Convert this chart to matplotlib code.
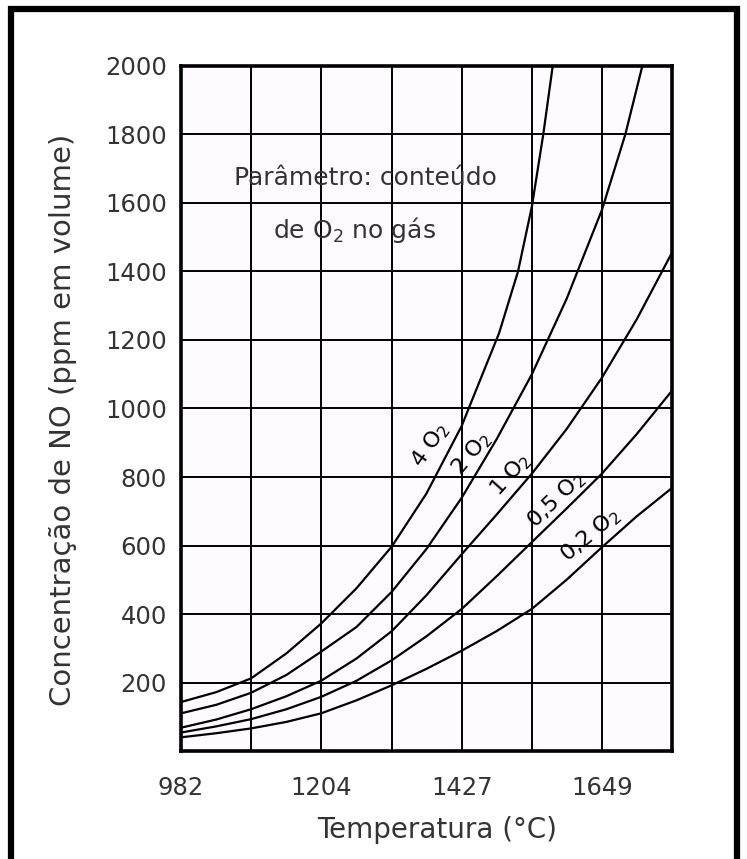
import matplotlib
matplotlib.use("Agg")
import matplotlib.pyplot as plt
from matplotlib.patches import Rectangle

# NO concentration vs temperature, one curve per O2 content in the gas
temp_c = {
    "4": [982, 1038, 1093, 1149, 1204, 1260, 1316, 1371, 1427, 1440, 1486, 1516, 1538, 1556, 1571],
    "2": [982, 1038, 1093, 1149, 1204, 1260, 1316, 1371, 1427, 1482, 1538, 1593, 1649, 1686, 1713],
    "1": [982, 1038, 1093, 1149, 1204, 1260, 1316, 1371, 1427, 1482, 1538, 1593, 1649, 1704, 1760],
    "0,5": [982, 1038, 1093, 1149, 1204, 1260, 1316, 1371, 1427, 1482, 1538, 1593, 1649, 1704, 1760],
    "0,2": [982, 1038, 1093, 1149, 1204, 1260, 1316, 1371, 1427, 1482, 1538, 1593, 1649, 1704, 1760],
}
no_ppm = {
    "4": [143, 172, 212, 285, 372, 475, 597, 752, 950, 1010, 1220, 1400, 1590, 1800, 2000],
    "2": [110, 135, 170, 222, 290, 362, 465, 590, 740, 910, 1100, 1320, 1580, 1800, 2000],
    "1": [68, 92, 122, 160, 205, 270, 350, 455, 575, 690, 810, 940, 1090, 1260, 1455],
    "0,5": [54, 72, 93, 122, 158, 205, 265, 335, 415, 510, 610, 708, 810, 925, 1052],
    "0,2": [40, 52, 66, 85, 110, 148, 192, 240, 293, 350, 415, 500, 595, 685, 768],
}

# curve labels: (temperature, ppm, rotation)
label_pos = {
    "4": (1377, 893, 55),
    "2": (1443, 868, 50),
    "1": (1504, 806, 48),
    "0,5": (1576, 733, 44),
    "0,2": (1631, 631, 40),
}

x_major = [982, 1204, 1427, 1649]
x_minor = [1093, 1316, 1538, 1760]
y_ticks = [200, 400, 600, 800, 1000, 1200, 1400, 1600, 1800, 2000]

text_col = "#333333"

fig = plt.figure(figsize=(7.47, 8.59), dpi=100)
ax = fig.add_axes([0.2423, 0.1257, 0.6573, 0.7975])
ax.set_facecolor("#fefbfe")

for key in temp_c:
    ax.plot(temp_c[key], no_ppm[key], color="black", lw=1.6, zorder=3)
    tx, ty, rot = label_pos[key]
    ax.text(tx, ty, key + " O$_2$", rotation=rot, rotation_mode="anchor",
            ha="center", va="center", fontsize=16, color="black", zorder=4)

ax.set_xlim(982, 1760)
ax.set_ylim(0, 2000)
ax.set_xticks(x_major)
ax.set_xticks(x_minor, minor=True)
ax.set_yticks(y_ticks)
ax.tick_params(which="both", length=0)
ax.tick_params(axis="x", pad=18, labelsize=17.5, labelcolor=text_col)
ax.tick_params(axis="y", pad=10, labelsize=17.5, labelcolor=text_col)
ax.grid(which="both", color="black", lw=1.4)
for s in ax.spines.values():
    s.set_linewidth(2.6)
    s.set_color("black")

ax.set_xlabel("Temperatura (°C)", fontsize=20, color=text_col, va="center")
ax.xaxis.set_label_coords(0.521, -0.1153)
ax.set_ylabel("Concentração de NO (ppm em volume)", fontsize=21, color=text_col,
              va="center")
ax.yaxis.set_label_coords(-0.240, 0.483)

ax.text(1274, 1673, "Parâmetro: conteúdo", ha="center", va="center",
        fontsize=18, color=text_col)
ax.text(1257, 1521, "de O$_2$ no gás", ha="center", va="center",
        fontsize=18, color=text_col)

# outer frame of the scanned figure
fig.add_artist(Rectangle((11 / 747, -0.05), (737 - 11) / 747, 1.0395,
                         transform=fig.transFigure, fill=False,
                         edgecolor="black", lw=4.5))

fig.savefig("out.png", dpi=100)
